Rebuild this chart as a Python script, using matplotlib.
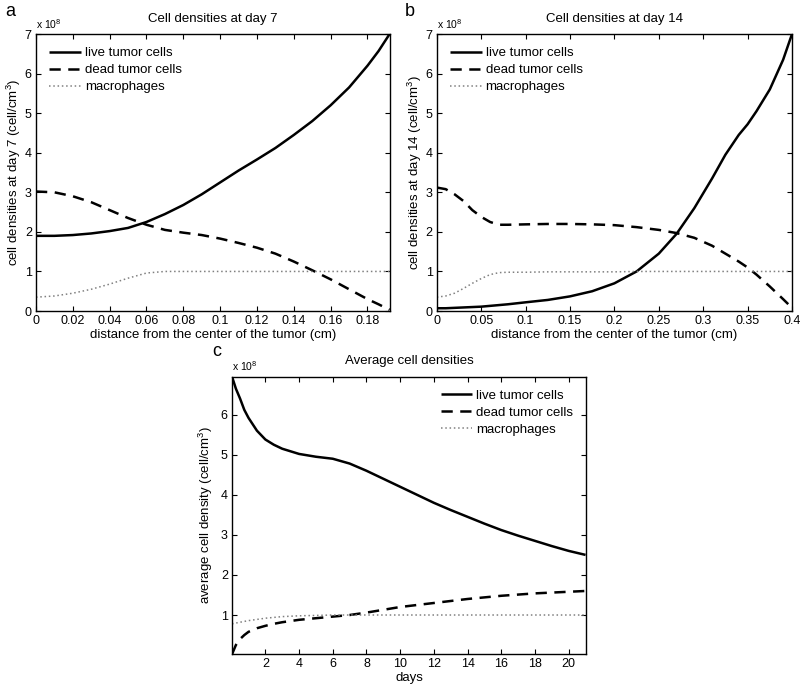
import numpy as np
import matplotlib
matplotlib.use("Agg")
import matplotlib.pyplot as plt
from matplotlib.ticker import FuncFormatter

plt.rcParams['font.family'] = ['Liberation Sans', 'DejaVu Sans']
plt.rcParams['mathtext.fontset'] = 'custom'
plt.rcParams['mathtext.rm'] = 'Liberation Sans'
plt.rcParams['mathtext.it'] = 'Liberation Sans:italic'

# panel a: day 7 profiles (values in units of 1e8 cell/cm^3)
r7 = [0, 0.01, 0.02, 0.03, 0.04, 0.05, 0.06, 0.07, 0.08, 0.09, 0.10,
      0.11, 0.12, 0.13, 0.14, 0.15, 0.16, 0.17, 0.18, 0.186, 0.192]
live7 = [1.90, 1.90, 1.92, 1.96, 2.02, 2.10, 2.25, 2.45, 2.68, 2.95, 3.25,
         3.55, 3.83, 4.12, 4.45, 4.80, 5.20, 5.65, 6.20, 6.57, 7.00]
dead7 = [3.02, 3.00, 2.90, 2.75, 2.55, 2.35, 2.18, 2.05, 1.98, 1.92, 1.83,
         1.72, 1.60, 1.45, 1.25, 1.03, 0.80, 0.55, 0.30, 0.17, 0.03]
mac7 = [0.35, 0.38, 0.45, 0.55, 0.68, 0.83, 0.96, 1.00, 1.00, 1.00, 1.00,
        1.00, 1.00, 1.00, 1.00, 1.00, 1.00, 1.00, 1.00, 1.00, 1.00]

# panel b: day 14 profiles
r14 = [0, 0.01, 0.02, 0.03, 0.04, 0.05, 0.06, 0.07, 0.08, 0.10, 0.125, 0.15,
       0.175, 0.20, 0.225, 0.25, 0.27, 0.29, 0.31, 0.325, 0.34, 0.35,
       0.36, 0.375, 0.39, 0.40]
live14 = [0.07, 0.07, 0.08, 0.09, 0.10, 0.11, 0.13, 0.15, 0.17, 0.22, 0.28, 0.37,
          0.50, 0.70, 1.00, 1.45, 1.95, 2.60, 3.35, 3.95, 4.45, 4.72,
          5.05, 5.60, 6.35, 7.00]
dead14 = [3.12, 3.08, 2.95, 2.78, 2.55, 2.38, 2.25, 2.18, 2.18, 2.19, 2.20, 2.20,
          2.19, 2.17, 2.12, 2.05, 1.97, 1.85, 1.65, 1.45, 1.25, 1.10,
          0.92, 0.62, 0.30, 0.08]
mac14 = [0.35, 0.38, 0.45, 0.57, 0.70, 0.82, 0.92, 0.97, 0.98, 0.98, 0.99, 0.99,
         0.99, 0.99, 1.00, 1.00, 1.00, 1.00, 1.00, 1.00, 1.00, 1.00,
         1.00, 1.00, 1.00, 1.00]

# panel c: averages over time
days = [0.02, 0.25, 0.5, 0.75, 1, 1.5, 2, 2.5, 3, 4, 5, 6, 7, 8, 9, 10,
        11, 12, 13, 14, 15, 16, 17, 18, 19, 20, 21]
live_avg = [6.95, 6.65, 6.40, 6.12, 5.92, 5.60, 5.38, 5.25, 5.15, 5.02, 4.95, 4.90,
            4.78, 4.60, 4.40, 4.20, 4.00, 3.80, 3.62, 3.45, 3.28, 3.12, 2.98,
            2.85, 2.72, 2.60, 2.50]
dead_avg = [0.02, 0.25, 0.40, 0.50, 0.58, 0.67, 0.73, 0.78, 0.82, 0.88, 0.92, 0.96,
            1.00, 1.06, 1.13, 1.20, 1.25, 1.30, 1.35, 1.40, 1.44, 1.48, 1.51,
            1.54, 1.56, 1.58, 1.60]
mac_avg = [0.78, 0.80, 0.82, 0.84, 0.86, 0.89, 0.92, 0.94, 0.96, 0.98, 0.99, 1.00,
           1.00, 1.00, 1.00, 1.00, 1.00, 1.00, 1.00, 1.00, 1.00, 1.00, 1.00,
           1.00, 1.00, 1.00, 1.00]

labels = ['live tumor cells', 'dead tumor cells', 'macrophages']

fig = plt.figure(figsize=(8, 6.89), dpi=100)
ax_a = fig.add_axes([0.045, 0.5486, 0.442, 0.402])
ax_b = fig.add_axes([0.546, 0.5486, 0.444, 0.402])
ax_c = fig.add_axes([0.290, 0.0504, 0.443, 0.403])


def draw(ax, x, live, dead, mac):
    ax.plot(x, live, color='black', lw=1.8, solid_capstyle='butt')
    ax.plot(x, dead, color='black', lw=1.8, dashes=(4.5, 3.0))
    ax.plot(x, mac, color='#808080', lw=1.1, dashes=(1.0, 1.8))
    ax.tick_params(direction='in', top=True, right=True, length=3.5,
                   labelsize=9, pad=3)
    for s in ax.spines.values():
        s.set_linewidth(1.0)
    ax.yaxis.set_major_formatter(FuncFormatter(lambda v, p: '%g' % v))
    ax.xaxis.set_major_formatter(FuncFormatter(lambda v, p: '%g' % v))
    ax.text(0.0, 1.012, 'x 10$^{8}$', transform=ax.transAxes, fontsize=7.5,
            ha='left', va='bottom')
    ax.legend(labels, frameon=False, fontsize=9.5, handlelength=2.4,
              handletextpad=0.3, labelspacing=0.35, borderaxespad=0.6)


draw(ax_a, r7, live7, dead7, mac7)
ax_a.set_xlim(0, 0.192)
ax_a.set_ylim(0, 7)
ax_a.set_xticks(np.arange(0, 0.19, 0.02))
ax_a.set_yticks(range(0, 8))
ax_a.set_title('Cell densities at day 7', fontsize=9.5, pad=9)
ax_a.set_xlabel('distance from the center of the tumor (cm)', fontsize=9.5, labelpad=1)
ax_a.set_ylabel('cell densities at day 7 (cell/cm$^{3}$)', fontsize=9.5, labelpad=1)
ax_a.get_legend().set_loc('upper left')

draw(ax_b, r14, live14, dead14, mac14)
ax_b.set_xlim(0, 0.4)
ax_b.set_ylim(0, 7)
ax_b.set_xticks(np.arange(0, 0.41, 0.05))
ax_b.set_yticks(range(0, 8))
ax_b.set_title('Cell densities at day 14', fontsize=9.5, pad=9)
ax_b.set_xlabel('distance from the center of the tumor (cm)', fontsize=9.5, labelpad=1)
ax_b.set_ylabel('cell densities at day 14 (cell/cm$^{3}$)', fontsize=9.5, labelpad=1)
ax_b.get_legend().set_loc('upper left')

draw(ax_c, days, live_avg, dead_avg, mac_avg)
ax_c.set_xlim(0.02, 21.05)
ax_c.set_ylim(0.02, 6.95)
ax_c.set_xticks(range(2, 21, 2))
ax_c.set_yticks(range(1, 7))
ax_c.set_title('Average cell densities', fontsize=9.5, pad=9)
ax_c.set_xlabel('days', fontsize=9.5, labelpad=1)
ax_c.set_ylabel('average cell density (cell/cm$^{3}$)', fontsize=9.5, labelpad=4)
ax_c.get_legend().set_loc('upper right')

fig.text(5 / 800, 1 - 12 / 689, 'a', fontsize=13, va='center', ha='left')
fig.text(405 / 800, 1 - 12 / 689, 'b', fontsize=13, va='center', ha='left')
fig.text(212 / 800, 1 - 352 / 689, 'c', fontsize=13, va='center', ha='left')

fig.savefig('out.png', dpi=100)
